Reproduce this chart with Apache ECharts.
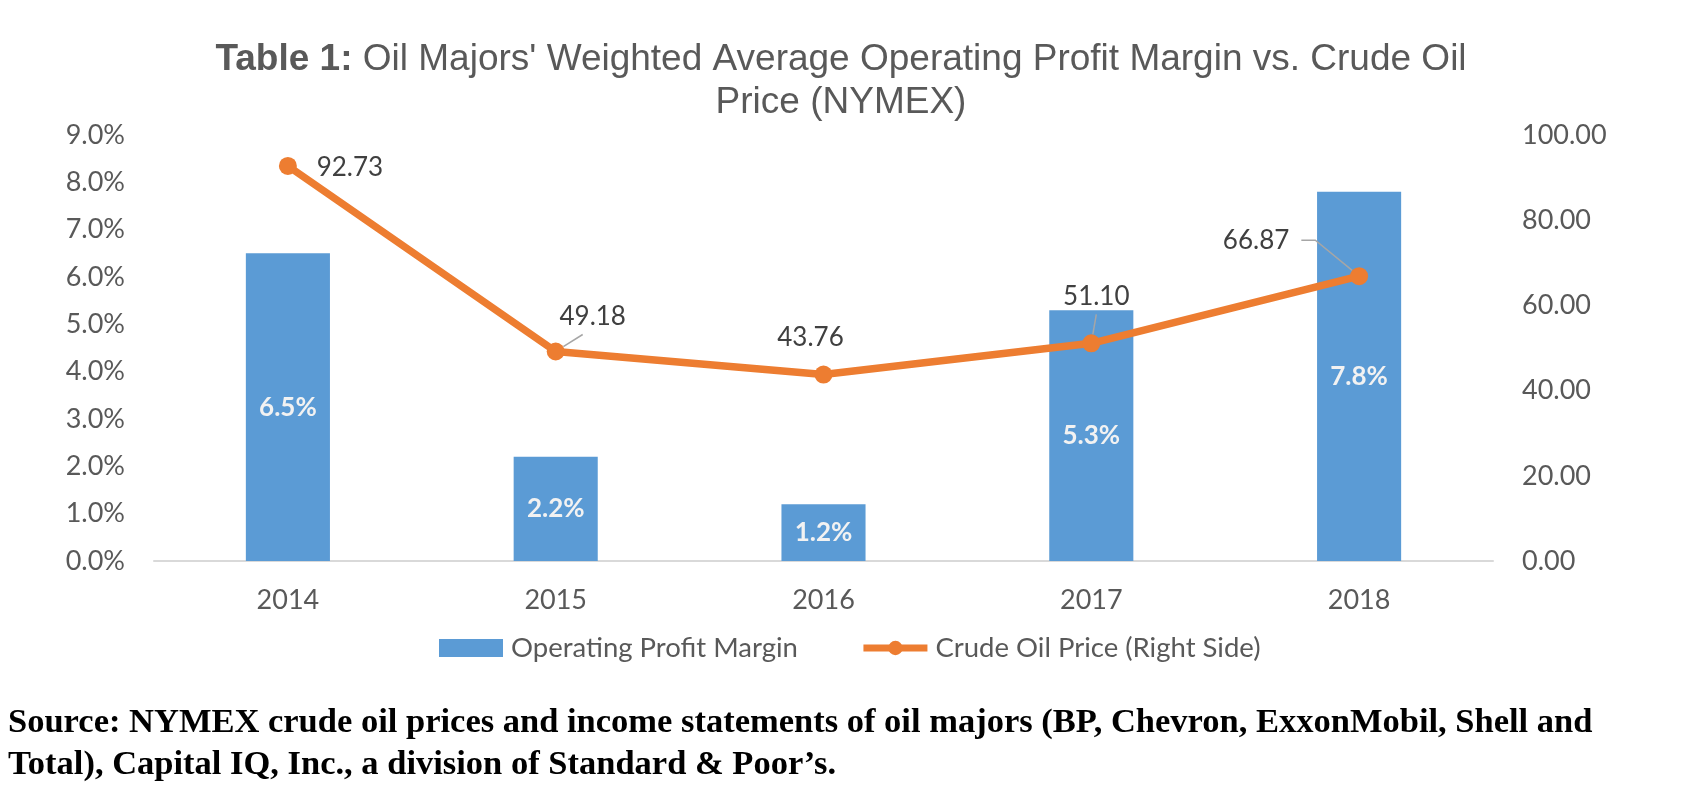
<!DOCTYPE html>
<html>
<head>
<meta charset="utf-8">
<title>Oil Majors Operating Profit Margin vs Crude Oil Price</title>
<script src="https://cdn.jsdelivr.net/npm/echarts@6/dist/echarts.min.js"></script>
<style>
  html, body { margin: 0; padding: 0; background: #fff; }
  #chart { width: 1682px; height: 788px; }
</style>
</head>
<body>
<div id="chart"></div>
<script>
// data
var years = ['2014', '2015', '2016', '2017', '2018'];
var marginPct = [6.5, 2.2, 1.2, 5.3, 7.8];
var oilPrice = [92.73, 49.18, 43.76, 51.10, 66.87];
var leftTicks = [0, 9, 1];      // min, max, step (%)
var rightTicks = [0, 100, 20];  // min, max, step

// label placement for the price labels (offset from the marker)
var priceLabelShift = [[62, 2], [27, -35], [-13, -37], [5, -47], [-97, -36]];
var priceLabelPad = [0, [0, 0, 10, 20], 0, [0, 0, 10, 0], [0, 12, 0, 0]];
var priceLeader = [false, true, false, true, true];
var priceLeaderLen = [0, 0, 0, 0, 14];

var labelFont = 'Lato';
var myChart = echarts.init(document.getElementById('chart'));

var priceData = oilPrice.map(function (v, i) {
    return {
        value: v,
        label: { padding: priceLabelPad[i], backgroundColor: 'rgba(255,255,255,0)' },
        labelLine: { show: priceLeader[i], length2: priceLeaderLen[i] }
    };
});

option = {
    animation: false,
    title: {
        text: '{b|Table 1:} Oil Majors\' Weighted Average Operating Profit Margin vs. Crude Oil\nPrice (NYMEX)',
        left: 'center',
        top: 38,
        padding: 0,
        textStyle: {
            fontFamily: 'Liberation Sans',
            fontSize: 37,
            fontWeight: 'normal',
            color: '#595959',
            lineHeight: 43,
            rich: {
                b: {
                    fontFamily: 'Liberation Sans',
                    fontSize: 37,
                    fontWeight: 'bold',
                    color: '#595959',
                    lineHeight: 43
                }
            }
        }
    },
    legend: {
        left: 434,
        top: 629,
        itemWidth: 64,
        itemHeight: 18,
        itemGap: 62,
        textStyle: { fontFamily: labelFont, fontSize: 27.5, color: '#595959', padding: [0, 0, 0, 3] },
        data: [
            { name: 'Operating Profit Margin', icon: 'rect' },
            { name: 'Crude Oil Price (Right Side)', lineStyle: { width: 7 } }
        ]
    },
    grid: {
        left: 154,
        right: 189,
        top: 135,
        bottom: 227
    },
    xAxis: [{
        type: 'category',
        data: years,
        axisLine: { lineStyle: { color: '#D9D9D9', width: 2 } },
        axisTick: { show: false },
        axisLabel: { margin: 26, fontFamily: labelFont, fontSize: 27, color: '#595959' }
    }],
    yAxis: [
        {
            type: 'value',
            min: leftTicks[0],
            max: leftTicks[1],
            interval: leftTicks[2],
            splitLine: { show: false },
            axisLine: { show: false },
            axisTick: { show: false },
            axisLabel: {
                margin: 29,
                fontFamily: labelFont,
                fontSize: 27,
                color: '#595959',
                formatter: function (v) { return v.toFixed(1) + '%'; }
            }
        },
        {
            type: 'value',
            position: 'right',
            min: rightTicks[0],
            max: rightTicks[1],
            interval: rightTicks[2],
            splitLine: { show: false },
            axisLine: { show: false },
            axisTick: { show: false },
            axisLabel: {
                margin: 29,
                fontFamily: labelFont,
                fontSize: 27,
                color: '#595959',
                formatter: function (v) { return v.toFixed(2); }
            }
        }
    ],
    series: [
        {
            name: 'Operating Profit Margin',
            type: 'bar',
            data: marginPct,
            barWidth: '31.4%',
            itemStyle: { color: '#5B9BD5' },
            label: {
                show: true,
                position: 'inside',
                fontFamily: labelFont,
                fontSize: 26,
                fontWeight: 'bold',
                color: '#F2F2F2',
                formatter: function (p) { return p.value.toFixed(1) + '%'; }
            }
        },
        {
            name: 'Crude Oil Price (Right Side)',
            type: 'line',
            yAxisIndex: 1,
            data: priceData,
            z: 5,
            symbol: 'circle',
            symbolSize: 18,
            itemStyle: { color: '#ED7D31' },
            lineStyle: { color: '#ED7D31', width: 7.5 },
            label: {
                show: true,
                position: 'inside',
                fontFamily: labelFont,
                fontSize: 26,
                color: '#404040',
                formatter: function (p) { return p.value.toFixed(2); }
            },
            labelLine: {
                show: false,
                lineStyle: { color: '#A6A6A6', width: 1.5 }
            },
            labelLayout: function (params) {
                var s = priceLabelShift[params.dataIndex];
                return { dx: s[0], dy: s[1] };
            }
        }
    ],
    graphic: [
        {
            type: 'text',
            left: 8,
            top: 702,
            style: {
                text: 'Source: NYMEX crude oil prices and income statements of oil majors (BP, Chevron, ExxonMobil, Shell and\nTotal), Capital IQ, Inc., a division of Standard & Poor\u2019s.',
                font: 'bold 34.5px "Liberation Serif"',
                fill: '#000000',
                lineHeight: 42
            }
        }
    ]
};
myChart.setOption(option);
</script>
</body>
</html>
